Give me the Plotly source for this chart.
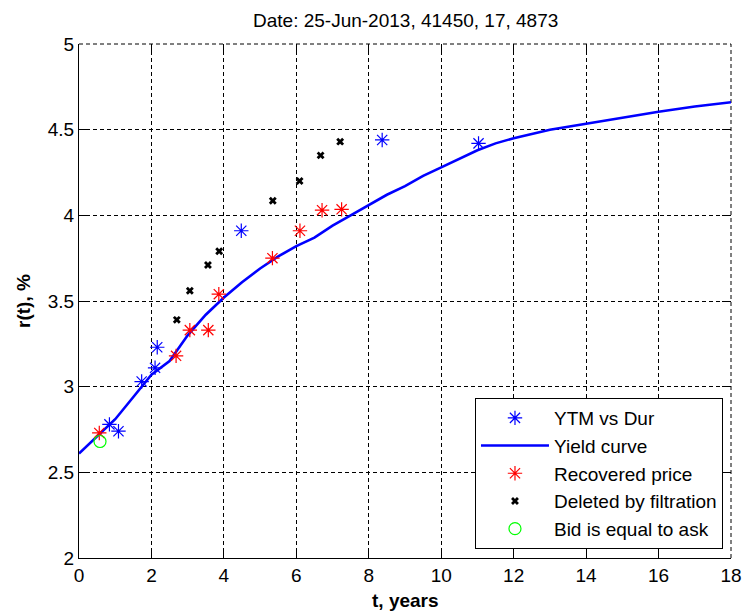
import plotly.graph_objects as go

# ---- data ----
ytm_dur_t = [0.84, 1.09, 1.73, 2.10, 2.16, 4.48, 8.37, 11.03]
ytm_dur_r = [2.78, 2.74, 3.03, 3.11, 3.23, 3.91, 4.44, 4.42]

curve_t = [0.0, 0.5, 1.0, 1.5, 2.0, 2.5, 3.0, 3.5, 4.0, 4.5, 5.0, 5.5, 6.0, 6.5,
           7.0, 7.5, 8.0, 8.5, 9.0, 9.5, 10.0, 10.5, 11.0, 11.5, 12.0, 13.0,
           14.0, 15.0, 16.0, 17.0, 18.0]
curve_r = [2.61, 2.71, 2.81, 2.94, 3.07, 3.15, 3.30, 3.42, 3.52, 3.61, 3.69, 3.76,
           3.82, 3.87, 3.94, 4.00, 4.06, 4.12, 4.17, 4.23, 4.28, 4.33, 4.38, 4.42,
           4.45, 4.50, 4.535, 4.57, 4.605, 4.635, 4.66]

recovered_t = [0.56, 2.68, 3.06, 3.57, 3.86, 5.34, 6.10, 6.71, 7.25]
recovered_r = [2.73, 3.18, 3.33, 3.33, 3.54, 3.75, 3.91, 4.03, 4.035]

deleted_t = [2.70, 3.06, 3.56, 3.87, 5.35, 6.09, 6.67, 7.21]
deleted_r = [3.39, 3.56, 3.71, 3.79, 4.085, 4.20, 4.35, 4.43]

bid_ask_t = [0.58]
bid_ask_r = [2.68]

x_ticks = [0, 2, 4, 6, 8, 10, 12, 14, 16, 18]
y_ticks = [2, 2.5, 3, 3.5, 4, 4.5, 5]
y_tick_text = ["2", "2.5", "3", "3.5", "4", "4.5", "5"]

title_text = "Date: 25-Jun-2013, 41450, 17, 4873"
x_label = "t, years"
y_label = "r(t), %"

FONT = "Liberation Sans, Arial, sans-serif"
FS = 19
DASH = "4px,3px"

fig = go.Figure()

fig.add_trace(go.Scatter(
    x=ytm_dur_t, y=ytm_dur_r, mode="markers", name="YTM vs Dur",
    marker=dict(symbol="asterisk-open", size=12, color="#0000ff",
                line=dict(color="#0000ff", width=1.2))))
fig.add_trace(go.Scatter(
    x=curve_t, y=curve_r, mode="lines", name="Yield curve",
    line=dict(color="#0000ff", width=2.6)))
fig.add_trace(go.Scatter(
    x=recovered_t, y=recovered_r, mode="markers", name="Recovered price",
    marker=dict(symbol="asterisk-open", size=12, color="#ff0000",
                line=dict(color="#ff0000", width=1.2))))
fig.add_trace(go.Scatter(
    x=deleted_t, y=deleted_r, mode="markers", name="Deleted by filtration",
    marker=dict(symbol="x", size=7, color="#000000", line=dict(width=0))))
fig.add_trace(go.Scatter(
    x=bid_ask_t, y=bid_ask_r, mode="markers", name="Bid is equal to ask",
    marker=dict(symbol="circle-open", size=12, color="#00ff00",
                line=dict(color="#00ff00", width=1.2))))

# empty helper trace so mirrored tick axes are drawn
fig.add_trace(go.Scatter(x=[], y=[], xaxis="x2", yaxis="y2", showlegend=False,
                         hoverinfo="skip"))

grid = dict(showgrid=True, gridcolor="black", gridwidth=1, griddash=DASH)

fig.update_layout(
    width=744, height=613,
    paper_bgcolor="white", plot_bgcolor="white",
    margin=dict(l=79, r=13, t=44, b=55, autoexpand=False),
    font=dict(family=FONT, size=FS, color="black"),
    showlegend=True,
    legend=dict(x=0.9877, y=0.0175, xanchor="right", yanchor="bottom",
                bgcolor="white", bordercolor="black", borderwidth=1,
                font=dict(family=FONT, size=19, color="black"),
                itemwidth=68, tracegroupgap=0),
    xaxis=dict(range=[0, 18], tickvals=x_ticks, ticktext=[str(v) for v in x_ticks],
               ticks="inside", ticklen=9, tickcolor="black", tickwidth=1,
               showline=True, linecolor="black", linewidth=1, zeroline=False,
               automargin=False, tickfont=dict(size=FS), **grid),
    yaxis=dict(range=[2, 5], tickvals=y_ticks, ticktext=y_tick_text,
               ticks="inside", ticklen=9, tickcolor="black", tickwidth=1,
               showline=True, linecolor="black", linewidth=1, zeroline=False,
               automargin=False, tickfont=dict(size=FS), **grid),
    xaxis2=dict(overlaying="x", side="top", range=[0, 18], tickvals=x_ticks,
                ticks="inside", ticklen=9, tickcolor="black", showticklabels=False,
                showgrid=False, showline=False, zeroline=False, automargin=False),
    yaxis2=dict(overlaying="y", side="right", range=[2, 5], tickvals=y_ticks,
                ticks="inside", ticklen=9, tickcolor="black", showticklabels=False,
                showgrid=False, showline=False, zeroline=False, automargin=False),
    shapes=[
        dict(type="line", xref="paper", yref="paper", x0=0, x1=1, y0=1, y1=1,
             line=dict(color="black", width=1, dash=DASH), layer="below"),
        dict(type="line", xref="paper", yref="paper", x0=1, x1=1, y0=0, y1=1,
             line=dict(color="black", width=1, dash=DASH), layer="below"),
    ],
    annotations=[
        dict(text=title_text, xref="paper", yref="paper", x=0.5, y=1,
             yshift=24, showarrow=False, xanchor="center", yanchor="middle",
             font=dict(size=FS)),
        dict(text="<b>" + x_label + "</b>", xref="paper", yref="paper", x=0.5, y=0,
             yshift=-42, showarrow=False, xanchor="center", yanchor="middle",
             font=dict(size=FS)),
        dict(text="<b>" + y_label + "</b>", xref="paper", yref="paper", x=0, y=0.5,
             xshift=-56, showarrow=False, xanchor="center", yanchor="middle",
             textangle=-90, font=dict(size=FS)),
    ],
)

fig.write_html(
    "out.html",
    config={"displayModeBar": False},
    post_script="document.body.style.margin='0';document.body.style.padding='0';"
                "document.documentElement.style.overflow='hidden';",
)
